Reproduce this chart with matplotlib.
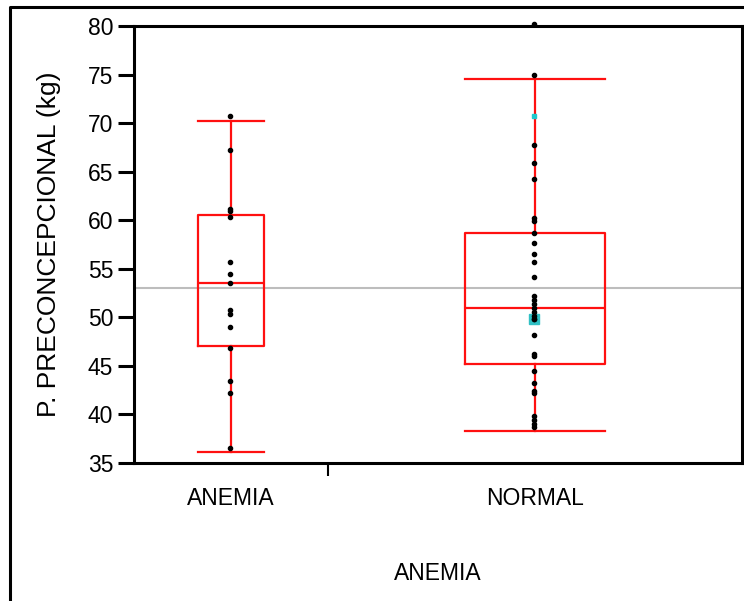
import matplotlib
matplotlib.use("Agg")
import matplotlib.pyplot as plt
from matplotlib.lines import Line2D
import numpy as np

plt.rcParams['font.family'] = ['Liberation Sans', 'DejaVu Sans']

groups = ["ANEMIA", "NORMAL"]

# individual values
anemia_vals = [70.7, 67.2, 61.2, 60.9, 60.3, 55.7, 54.5, 53.5, 50.8, 50.3,
               49.0, 46.8, 43.4, 42.2, 36.5]
normal_vals = [80.2, 75.0, 67.7, 65.9, 64.2, 60.2, 59.9, 58.7, 57.7, 56.5,
               55.7, 54.2, 52.2, 51.8, 51.4, 51.0, 50.6, 50.1, 49.8, 48.2,
               46.2, 46.0, 44.5, 43.2, 42.4, 42.2, 39.8, 39.4, 39.0, 38.7]
normal_cyan = [70.7]        # small cyan point
normal_sel = [49.8]         # cyan square

# box stats as drawn (whisker lo, q1, median, q3, whisker hi)
anemia_box = [36.1, 47.0, 53.5, 60.5, 70.2]
normal_box = [38.3, 45.2, 51.0, 58.7, 74.5]

grand_mean = 53.0
yticks = [35, 40, 45, 50, 55, 60, 65, 70, 75, 80]

n_a = len(anemia_vals)
n_n = len(normal_vals) + len(normal_cyan) + 1
total = n_a + n_n
centers = [n_a / 2, n_a + n_n / 2]
widths = [0.34 * n_a, 0.34 * n_n]

fig = plt.figure(figsize=(7.44, 6.01), dpi=100)
ax = fig.add_axes([134 / 744, 1 - 463 / 601, 608 / 744, 437 / 601])

stats = []
for lab, b in zip(groups, [anemia_box, normal_box]):
    stats.append(dict(label=lab, whislo=b[0], q1=b[1], med=b[2], q3=b[3], whishi=b[4], fliers=[]))

red = dict(color='#ff1010', linewidth=1.6)
ax.bxp(stats, positions=centers, widths=widths, showfliers=False,
       boxprops=red, whiskerprops=red, capprops=red, medianprops=red,
       capwidths=widths, manage_ticks=False)

ax.axhline(grand_mean, color='#bdbdbd', lw=1.5, zorder=1)

ax.plot([centers[0] - 0.05] * n_a, anemia_vals, 'o', color='black', ms=3.0, clip_on=False, zorder=5)
ax.plot([centers[1] - 0.1] * len(normal_vals), normal_vals, 'o', color='black', ms=3.0, clip_on=False, zorder=5)
ax.plot([centers[1] - 0.1] * len(normal_cyan), normal_cyan, 's', color='#22c8cc', ms=3.0, zorder=5)
ax.plot([centers[1] - 0.1] * len(normal_sel), normal_sel, 's', color='#30c0c4', ms=7, zorder=4)
ax.plot([centers[1] - 0.1] * len(normal_sel), normal_sel, 'o', color='black', ms=3.0, zorder=5)

ax.set_xlim(0, total)
ax.set_ylim(35, 80)
ax.set_yticks(yticks)
ax.set_xticks(centers)
ax.set_xticklabels(groups)
ax.set_xticks([n_a], minor=True)

for s in ax.spines.values():
    s.set_linewidth(2.2)
ax.tick_params(axis='y', length=11.5, width=2.2, pad=3.5, labelsize=16.5)
ax.tick_params(axis='x', which='major', length=0, pad=17, labelsize=16.5)
ax.tick_params(axis='x', which='minor', length=9.5, width=1.5)

ax.set_ylabel("P. PRECONCEPCIONAL (kg)", fontsize=19, labelpad=19)
ax.set_xlabel("ANEMIA", fontsize=16.5, labelpad=38)

# outer frame (left and top)
fig.add_artist(Line2D([10 / 744, 10 / 744, 1.0], [0.0, 1 - 7 / 601, 1 - 7 / 601],
                      transform=fig.transFigure, color='black', lw=2.2))

fig.savefig("out.png", dpi=100)
